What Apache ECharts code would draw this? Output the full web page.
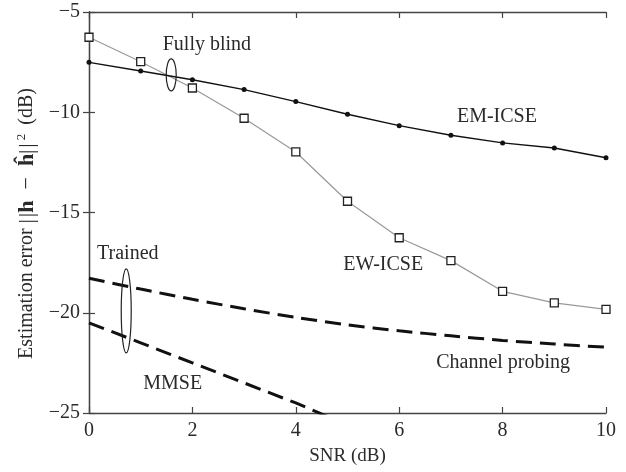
<!DOCTYPE html>
<html>
<head>
<meta charset="utf-8">
<script src="https://cdn.jsdelivr.net/npm/echarts@6/dist/echarts.min.js"></script>
<style>html,body{margin:0;padding:0;background:#fff}#c{width:626px;height:472px}</style>
</head>
<body>
<div id="c"></div>
<script>
var snr = [0,1,2,3,4,5,6,7,8,9,10];
var emIcse = [-7.51,-7.94,-8.38,-8.87,-9.47,-10.10,-10.67,-11.15,-11.53,-11.78,-12.27];
var ewIcse = [-6.26,-7.48,-8.79,-10.30,-11.98,-14.44,-16.26,-17.40,-18.93,-19.51,-19.83];
var channelProbing = [-18.28,-18.82,-19.33,-19.80,-20.23,-20.60,-20.90,-21.15,-21.38,-21.56,-21.72];
var mmse = [-20.5,-21.5,-22.5,-23.5,-24.5,-25.6];
var xTicks = [0,2,4,6,8,10];
var yTicks = [-25,-20,-15,-10,-5];
var labelTexts = ['Fully blind','EM-ICSE','EW-ICSE','Channel probing','MMSE','Trained'];
var labelAnchors = [[2.28,-6.65],[7.89,-10.24],[5.69,-17.62],[8.01,-22.51],[1.62,-23.55],[0.75,-17.07]];
var braceAnchors = [[1.59,-8.14],[0.72,-19.91]];
var braceRadii = [[5,16],[5,42]];

var FONT = 'Liberation Serif';
var TXT = '#2a2a2a';
function pairs(xs, ys){ return ys.map(function(v,i){ return [xs[i], v]; }); }
function fmt(v){ return String(v).replace('-', '\u2212'); }

var chart = echarts.init(document.getElementById('c'));
var axisLine = {show:true, lineStyle:{color:'#444', width:1.3}};
var option = {
  animation:false,
  backgroundColor:'#fff',
  grid:{left:89, right:20, top:12, bottom:59},
  xAxis:[{
    type:'value', min:xTicks[0], max:xTicks[xTicks.length-1], interval:2,
    axisLine:axisLine, axisTick:{inside:true, length:6, lineStyle:{color:'#444', width:1.2}},
    splitLine:{show:false},
    axisLabel:{color:TXT, fontFamily:FONT, fontSize:20, margin:8, formatter:fmt},
    name:'SNR (dB)', nameLocation:'middle', nameGap:34,
    nameTextStyle:{color:TXT, fontFamily:FONT, fontSize:19}
  },{
    type:'value', position:'top', min:xTicks[0], max:xTicks[xTicks.length-1], interval:2,
    axisLine:axisLine, axisTick:{inside:true, length:6, lineStyle:{color:'#444', width:1.2}},
    splitLine:{show:false}, axisLabel:{show:false}
  }],
  yAxis:[{
    type:'value', min:yTicks[0], max:yTicks[yTicks.length-1], interval:5,
    axisLine:axisLine, axisTick:{inside:true, length:6, lineStyle:{color:'#444', width:1.2}},
    splitLine:{show:false},
    axisLabel:{color:TXT, fontFamily:FONT, fontSize:20, margin:9, formatter:fmt},
    name:'{a|Estimation error }{m||\u200A|}{b|h}{m|\u2002\u2212\u2002}{b|\u0125}{m||\u200A|}{s|2}{a| (dB)}',
    nameLocation:'middle', nameGap:50, nameRotate:90,
    nameTextStyle:{color:TXT, fontFamily:FONT, fontSize:20, padding:[0,22,0,0],
      rich:{a:{color:TXT, fontFamily:FONT, fontSize:20},
            m:{color:TXT, fontFamily:FONT, fontSize:22},
            b:{color:TXT, fontFamily:FONT, fontSize:22, fontWeight:'bold'},
            s:{color:TXT, fontFamily:FONT, fontSize:13, verticalAlign:'top', padding:[0,4,10,3]}}}
  },{
    type:'value', position:'right', min:yTicks[0], max:yTicks[yTicks.length-1], interval:5,
    axisLine:axisLine, axisTick:{inside:true, length:6, lineStyle:{color:'#444', width:1.2}},
    splitLine:{show:false}, axisLabel:{show:false}
  }],
  series:[
    {type:'line', name:'Channel probing', data:pairs(snr, channelProbing), smooth:0.3, showSymbol:false, symbol:'none',
     lineStyle:{color:'#111', width:3, type:[16,8]}, z:2},
    {type:'line', name:'MMSE', data:pairs(snr, mmse), showSymbol:false, symbol:'none', clip:true,
     lineStyle:{color:'#111', width:3, type:[16,8]}, z:2},
    {type:'line', name:'EW-ICSE', data:pairs(snr, ewIcse), symbol:'rect', symbolSize:8,
     lineStyle:{color:'#999', width:1.2}, itemStyle:{color:'#fff', borderColor:'#222', borderWidth:1.3}, z:3},
    {type:'line', name:'EM-ICSE', data:pairs(snr, emIcse), symbol:'circle', symbolSize:5,
     lineStyle:{color:'#111', width:1.4}, itemStyle:{color:'#111'}, z:4}
  ]
};
chart.setOption(option);

var g = [];
labelTexts.forEach(function(t,i){
  var p = chart.convertToPixel({gridIndex:0}, labelAnchors[i]);
  g.push({type:'text', x:p[0], y:p[1], z:10,
    style:{text:t, fill:TXT, font:'20px "' + FONT + '"', align:'center', verticalAlign:'middle'}});
});
braceAnchors.forEach(function(a,i){
  var p = chart.convertToPixel({gridIndex:0}, a);
  g.push({type:'ellipse', z:10, shape:{cx:p[0], cy:p[1], rx:braceRadii[i][0], ry:braceRadii[i][1]},
    style:{fill:'none', stroke:'#222', lineWidth:1.2}});
});
chart.setOption({graphic:g});
</script>
</body>
</html>
